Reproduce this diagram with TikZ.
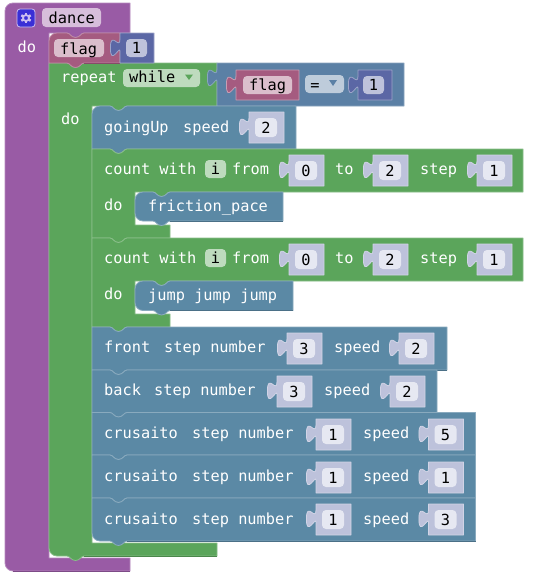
\documentclass[tikz,border=0pt]{standalone}
\usepackage{fontspec}
\setmainfont{DejaVu Sans Mono}
\definecolor{cpur}{HTML}{995BA5}
\definecolor{cgrn}{HTML}{5BA55B}
\definecolor{cstm}{HTML}{5B89A5}
\definecolor{clog}{HTML}{5B80A5}
\definecolor{cflg}{HTML}{A55B80}
\definecolor{cnum}{HTML}{5B67A5}
\definecolor{cshd}{HTML}{BDC2DB}
\definecolor{fshd}{HTML}{E6E8F2}
\definecolor{fpur}{HTML}{D7BEDB}
\definecolor{fflg}{HTML}{DBBECC}
\definecolor{fgrn}{HTML}{BEDBBE}
\definecolor{flog}{HTML}{BECCDB}
\definecolor{fnum}{HTML}{BEC2DB}
\definecolor{cico}{HTML}{3A2FD6}
\definecolor{cgear}{HTML}{CDBEF0}
\newcommand\NotchR[2]{-- (#1+18,#2) .. controls (#1+21,#2) and (#1+22,#2+4.5) .. (#1+26.5,#2+4.5) .. controls (#1+31,#2+4.5) and (#1+32,#2) .. (#1+35,#2)}
\newcommand\TabL[2]{-- (#1+35,#2) .. controls (#1+32,#2) and (#1+31,#2+4.5) .. (#1+26.5,#2+4.5) .. controls (#1+22,#2+4.5) and (#1+21,#2) .. (#1+18,#2)}
\newcommand\TopR[2]{(#1,#2+8) .. controls (#1,#2+3.6) and (#1+3.6,#2) .. (#1+8,#2)}
\newcommand\TopS[2]{(#1,#2) -- (#1+8,#2)}
\newcommand\BotR[2]{-- (#1+8,#2) .. controls (#1+3.6,#2) and (#1,#2-3.6) .. (#1,#2-8)}
\newcommand\BotS[2]{-- (#1,#2)}
\newcommand\LeftTab[2]{-- (#1,#2+12) .. controls (#1,#2+24) and (#1-9.6,#2+2.4) .. (#1-9.6,#2+21) .. controls (#1-9.6,#2+39.6) and (#1,#2+18) .. (#1,#2+24)}
% statement block: colour x1 y1 x2 y2 top bottom
\newcommand\Stmt[7]{%
  \draw[block,fill=#1,draw=#1!72!white] #6{#2}{#3} \NotchR{#2}{#3} -- (#4,#3) -- (#4,#5) \TabL{#2}{#5} #7{#2}{#5} -- cycle;
  \draw[edge,#1!82!black] (#4,#5) -- (#2+35,#5);}
% C-shaped block: colour x1 y1 headright headbottom innerx bartop barbottom barright
\newcommand\Cblock[9]{%
  \draw[block,fill=#1,draw=#1!72!white] \TopS{#2}{#3} \NotchR{#2}{#3} -- (#4,#3) -- (#4,#5) \TabL{#6}{#5} -- (#6,#5) -- (#6,#7) -- (#9,#7) -- (#9,#8) \TabL{#2}{#8} -- (#2,#8) -- cycle;
  \draw[edge,#1!82!black] (#9,#8) -- (#2+35,#8);}
% value block: fill border x y width height
\newcommand\Val[6]{%
  \draw[block,fill=#1,draw=#2] (#3,#4) \LeftTab{#3}{#4-6} -- (#3,#4+#6) -- (#3+#5,#4+#6) -- (#3+#5,#4) -- cycle;}
\newcommand\Num[3]{%
  \Val{cshd}{cshd!70!white}{#1}{#2}{35}{31}
  \draw[chip,fill=fshd] (#1+6,#2+6) rectangle (#1+28,#2+25);
  \node[dark,anchor=base] at (#1+17,#2+21) {#3};}
\tikzset{
  block/.style={line width=.8pt,line join=round},
  edge/.style={line width=.8pt},
  chip/.style={draw=none,rounded corners=4pt},
  light/.style={text=white,anchor=base west,inner sep=0pt,font=\fontsize{15.3}{18}\selectfont},
  dark/.style={text=black,inner sep=0pt,font=\fontsize{15.3}{18}\selectfont},
}
\begin{document}
\begin{tikzpicture}[x=1pt,y=-1pt]
\useasboundingbox (0,0) rectangle (539,581);
\fill[white] (0,0) rectangle (539,581);
% procedure block
\draw[block,fill=cpur,draw=cpur!72!white] \TopR{5}{3} -- (130,3) -- (130,33) \TabL{49}{33} -- (49,33) -- (49,558) -- (130,558) -- (130,571) -- (13,571) .. controls (8.6,571) and (5,567.4) .. (5,563) -- cycle;
\draw[edge,cpur!82!black] (130,571) -- (13,571);
\draw[fill=cico,draw=cgear,line width=.8pt,rounded corners=3pt] (17,9) rectangle (35,27);
\draw[line width=1.8pt,draw=cgear] (26,18) circle (3);
\foreach \a in {30,90,...,330} \draw[line width=2.4pt,draw=cgear] (26,18) ++(\a:3.4) -- ++(\a:2);
\draw[chip,fill=fpur] (42,8) rectangle (101,27);
\node[dark,anchor=base west] (tdance) at (48.5,23) {dance};
\node[light] (tdo1) at (17.5,52) {do};
% repeat block
\draw[block,fill=cgrn,draw=cgrn!72!white] \TopS{49}{63} \NotchR{49}{63} -- (217,63) -- (217,106) \TabL{92}{106} -- (92,106) -- (92,543) -- (217,543) -- (217,556) \TabL{49}{556} \BotR{49}{556} -- cycle;
\draw[edge,cgrn!82!black] (217,556) -- (84,556);
\node[light] (trep) at (61,82) {repeat};
\draw[chip,fill=fgrn] (123,69) rectangle (200,87);
\node[dark,anchor=base west] (twhile) at (129,82.5) {while};
\fill[cgrn] (185,74.5) -- (193,74.5) -- (189,80) -- cycle;
\node[light] (tdo2) at (61,124) {do};
% compare block
\Val{clog}{clog!72!white}{217}{63}{187}{43}
\Val{cflg}{cflg!60!white}{236}{70}{63}{30}
\draw[chip,fill=fflg] (243,76) rectangle (292,94);
\node[dark,anchor=base west] (tflag2) at (249,90) {flag};
\draw[chip,fill=flog] (305,75) rectangle (344,93);
\node[dark,anchor=base] (teq) at (315,90) {=};
\fill[clog] (329,80) -- (337,80) -- (333,86) -- cycle;
\Val{cnum}{cnum!60!white}{358}{70}{34}{30}
\draw[chip,fill=fnum] (363,76) rectangle (384,94);
\node[dark,anchor=base] (tone2) at (373.5,90) {1};
% flag block and its value
\Stmt{cflg}{49}{33}{120}{63}{\TopR}{\BotS}
\Val{cnum}{cnum!60!white}{120}{33}{34}{30}
\draw[chip,fill=fflg] (54,39) rectangle (104,57);
\node[dark,anchor=base west] (tflag1) at (60,54) {flag};
\draw[chip,fill=fnum] (126,39) rectangle (147,57);
\node[dark,anchor=base] (tone1) at (136.5,53) {1};
% goingUp
\Stmt{cstm}{92}{106}{296}{149}{\TopR}{\BotS}
\node[light] (tgo) at (104,132) {goingUp};
\node[light] (tgos) at (183,132) {speed};
\Num{249}{112}{2}
% first count
\Cblock{cgrn}{92}{149}{523}{192}{135}{225}{238}{170}
\node[light] (tc1) at (104,174) {count with};
\draw[chip,fill=fgrn] (205,160) rectangle (226,178);
\node[dark,anchor=base] (ti1) at (215.5,174) {i};
\node[light] (tf1) at (232,174) {from};
\Num{289}{155}{0}
\node[light] (tt1) at (335,174) {to};
\Num{373}{155}{2}
\node[light] (ts1) at (420,174) {step};
\Num{477}{155}{1}
\node[light] (td3) at (104,210) {do};
\Stmt{cstm}{135}{192}{283}{221}{\TopR}{\BotR}
\node[light] (tfr) at (148,211) {friction\_pace};
% second count
\Cblock{cgrn}{92}{238}{523}{281}{135}{314}{327}{170}
\node[light] (tc2) at (104,263) {count with};
\draw[chip,fill=fgrn] (205,249) rectangle (226,267);
\node[dark,anchor=base] (ti2) at (215.5,263) {i};
\node[light] (tf2) at (232,263) {from};
\Num{289}{244}{0}
\node[light] (tt2) at (335,263) {to};
\Num{373}{244}{2}
\node[light] (ts2) at (420,263) {step};
\Num{477}{244}{1}
\node[light] (td4) at (104,299) {do};
\Stmt{cstm}{135}{281}{293}{310.5}{\TopR}{\BotR}
\node[light] (tj) at (148,300) {jump jump jump};
% front
\Stmt{cstm}{92}{327}{447}{370}{\TopS}{\BotS}
\node[light] (tfront) at (104,352) {front};
\node[light] (tfs) at (164,352) {step number};
\Num{287}{333}{3}
\node[light] (tfp) at (334,352) {speed};
\Num{399}{333}{2}
% back
\Stmt{cstm}{92}{370}{437}{412.5}{\TopS}{\BotS}
\node[light] (tback) at (104,395) {back};
\node[light] (tbs) at (154,395) {step number};
\Num{277}{376}{3}
\node[light] (tbp) at (324,395) {speed};
\Num{390}{376}{2}
% crusaito 1
\Stmt{cstm}{92}{412.5}{475.5}{455}{\TopS}{\BotS}
\node[light] (tc3) at (104,438) {crusaito};
\node[light] (tc3s) at (192,438) {step number};
\Num{316}{419}{1}
\node[light] (tc3p) at (363,438) {speed};
\Num{428.5}{419}{5}
% crusaito 2
\Stmt{cstm}{92}{455}{475.5}{498}{\TopS}{\BotS}
\node[light] (tc4) at (104,481) {crusaito};
\node[light] (tc4s) at (192,481) {step number};
\Num{316}{462}{1}
\node[light] (tc4p) at (363,481) {speed};
\Num{428.5}{462}{1}
% crusaito 3
\Stmt{cstm}{92}{498}{475.5}{541}{\TopS}{\BotR}
\node[light] (tc5) at (104,524) {crusaito};
\node[light] (tc5s) at (192,524) {step number};
\Num{316}{504}{1}
\node[light] (tc5p) at (363,524) {speed};
\Num{428.5}{504}{3}
\end{tikzpicture}
\end{document}
